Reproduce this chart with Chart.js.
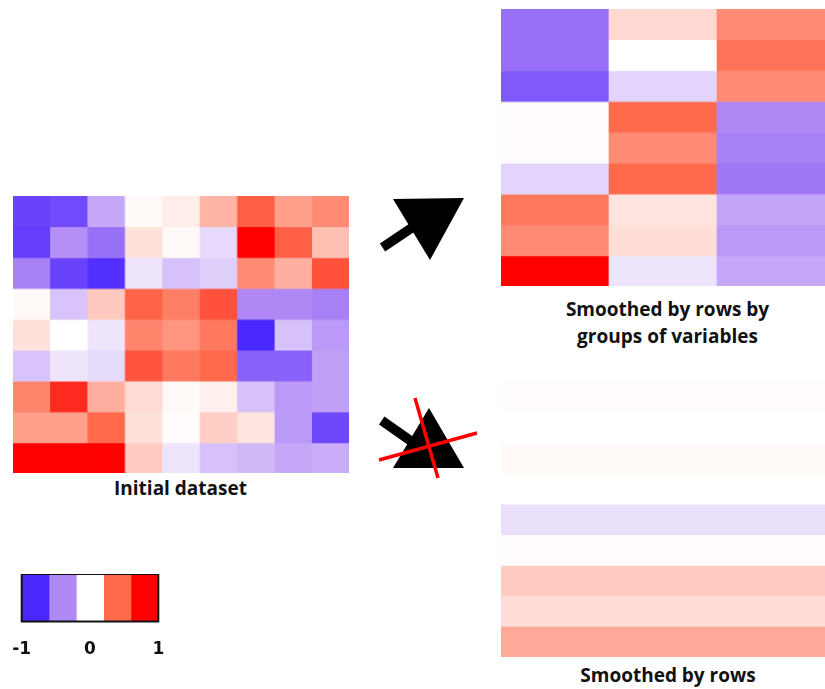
<!DOCTYPE html>
<html><head><meta charset="utf-8">
<script src="https://cdn.jsdelivr.net/npm/chart.js@4.4.1/dist/chart.umd.min.js"></script>
<style>
html,body{margin:0;padding:0;background:#fff;}
#root{position:relative;width:825px;height:689px;overflow:hidden;background:#fff;}
.box{position:absolute;}
.lbl{position:absolute;font-family:"Open Sans",sans-serif;font-weight:700;font-size:19px;line-height:19px;color:#111;white-space:nowrap;transform:translateX(-50%);}
svg{position:absolute;left:0;top:0;}
</style></head><body>
<div id="root">
  <div class="box" style="left:13.3px;top:196px;width:335.7px;height:276.7px"><canvas id="cInitial"></canvas></div>
  <div class="box" style="left:501px;top:9.3px;width:324px;height:276.7px"><canvas id="cGroups"></canvas></div>
  <div class="box" style="left:501px;top:381.7px;width:324px;height:275px"><canvas id="cRows"></canvas></div>
  <div class="box" style="left:0px;top:574.3px;width:180px;height:95px"><canvas id="cLegend"></canvas></div>
  <div class="lbl" style="left:180.5px;top:478.8px">Initial dataset</div>
  <div class="lbl" style="left:667.5px;top:300.4px">Smoothed by rows by</div>
  <div class="lbl" style="left:667.5px;top:326.5px">groups of variables</div>
  <div class="lbl" style="left:668px;top:666.4px">Smoothed by rows</div>
  <svg width="825" height="689">
    <line x1="382.5" y1="247.5" x2="416" y2="225" stroke="#000" stroke-width="9.5"/>
    <polygon points="393,199 464,198 430,260" fill="#000"/>
    <line x1="381.7" y1="420.5" x2="418" y2="446" stroke="#000" stroke-width="9.5"/>
    <polygon points="429,408 393,468 464,468" fill="#000"/>
    <line x1="415" y1="398" x2="438" y2="478" stroke="#ff0000" stroke-width="3.5"/>
    <line x1="379" y1="460" x2="477" y2="433" stroke="#ff0000" stroke-width="3.5"/>
  </svg>
</div>
<script>
// ---- data (values on a -1 .. 1 scale) ----
const initialValues = [
  [-0.85, -0.81, -0.37, 0.02, 0.06, 0.25, 0.55, 0.32, 0.39],
  [-0.87, -0.47, -0.62, 0.10, 0.02, -0.16, 1.00, 0.55, 0.21],
  [-0.54, -0.85, -0.95, -0.11, -0.26, -0.20, 0.39, 0.27, 0.62],
  [0.02, -0.25, 0.18, 0.53, 0.43, 0.62, -0.50, -0.50, -0.54],
  [0.10, 0.00, -0.11, 0.41, 0.36, 0.45, -1.00, -0.26, -0.43],
  [-0.25, -0.11, -0.15, 0.60, 0.45, 0.50, -0.70, -0.70, -0.40],
  [0.41, 0.80, 0.27, 0.12, 0.02, 0.05, -0.26, -0.43, -0.40],
  [0.32, 0.32, 0.50, 0.10, 0.01, 0.16, 0.09, -0.43, -0.83],
  [1.00, 1.00, 1.00, 0.17, -0.11, -0.26, -0.30, -0.37, -0.35]
];
const groupValues = [
  [-0.62, 0.13, 0.39],
  [-0.62, 0.00, 0.47],
  [-0.74, -0.18, 0.39],
  [0.01, 0.50, -0.50],
  [0.01, 0.39, -0.54],
  [-0.18, 0.50, -0.58],
  [0.45, 0.09, -0.38],
  [0.39, 0.11, -0.43],
  [1.00, -0.11, -0.37]
];
const rowValues = [0.01, 0.00, 0.02, 0.00, -0.13, 0.01, 0.17, 0.11, 0.29];
const legendValues = [-1, -0.5, 0, 0.5, 1];
const legendTicks = [-1, 0, 1];

// ---- colour scale ----
const colorStops = [
  [-1, [74, 38, 255]],
  [-0.5, [176, 136, 245]],
  [0, [255, 255, 255]],
  [0.5, [255, 106, 77]],
  [1, [255, 0, 0]]
];
function colorOf(v) {
  v = Math.max(-1, Math.min(1, v));
  for (let i = 0; i < colorStops.length - 1; i++) {
    const [a, ca] = colorStops[i], [b, cb] = colorStops[i + 1];
    if (v >= a && v <= b) {
      const t = (v - a) / (b - a);
      const c = ca.map((x, k) => Math.round(x + (cb[k] - x) * t));
      return `rgb(${c[0]},${c[1]},${c[2]})`;
    }
  }
  return 'rgb(255,255,255)';
}

const baseOpts = {
  responsive: true, maintainAspectRatio: false, animation: false, events: [],
  plugins: { legend: { display: false }, tooltip: { enabled: false } }
};

function heatmap(id, matrix) {
  const nR = matrix.length, nC = matrix[0].length;
  const labels = Array.from({ length: nC }, (_, i) => 'C' + (i + 1));
  const datasets = matrix.map((row, r) => ({
    data: row.map(() => [r, r + 1]),
    backgroundColor: row.map(colorOf),
    borderWidth: 0, grouped: false, categoryPercentage: 1, barPercentage: 1
  }));
  new Chart(document.getElementById(id), {
    type: 'bar',
    data: { labels, datasets },
    options: Object.assign({}, baseOpts, {
      layout: { padding: 0 },
      scales: {
        x: { display: false, offset: true },
        y: { display: false, min: 0, max: nR, reverse: true }
      }
    })
  });
}

heatmap('cInitial', initialValues);
heatmap('cGroups', groupValues);
heatmap('cRows', rowValues.map(v => [v]));

// legend colour bar
const binW = 2 / legendValues.length;
const frame = {
  id: 'frame',
  afterDatasetsDraw(chart) {
    const { ctx, chartArea: a } = chart;
    ctx.save();
    ctx.strokeStyle = '#111';
    ctx.lineWidth = 2;
    ctx.strokeRect(a.left, a.top, a.right - a.left, a.bottom - a.top);
    ctx.restore();
  }
};
new Chart(document.getElementById('cLegend'), {
  type: 'bar',
  data: {
    labels: ['scale'],
    datasets: legendValues.map((v, i) => ({
      data: [[-1 + i * binW, -1 + (i + 1) * binW]],
      backgroundColor: colorOf(v),
      borderWidth: 0, grouped: false, categoryPercentage: 1, barPercentage: 1
    }))
  },
  options: Object.assign({}, baseOpts, {
    indexAxis: 'y',
    layout: { padding: { left: 21.7, right: 21.7, top: 0, bottom: 0 } },
    scales: {
      x: {
        type: 'linear', min: -1, max: 1,
        afterBuildTicks: s => { s.ticks = legendTicks.map(v => ({ value: v })); },
        ticks: { font: { family: 'DejaVu Sans', weight: 'bold', size: 17 }, color: '#111', padding: 10, maxRotation: 0, autoSkip: false },
        grid: { display: false }, border: { display: false }
      },
      y: { display: false }
    }
  }),
  plugins: [frame]
});
</script>
</body></html>
